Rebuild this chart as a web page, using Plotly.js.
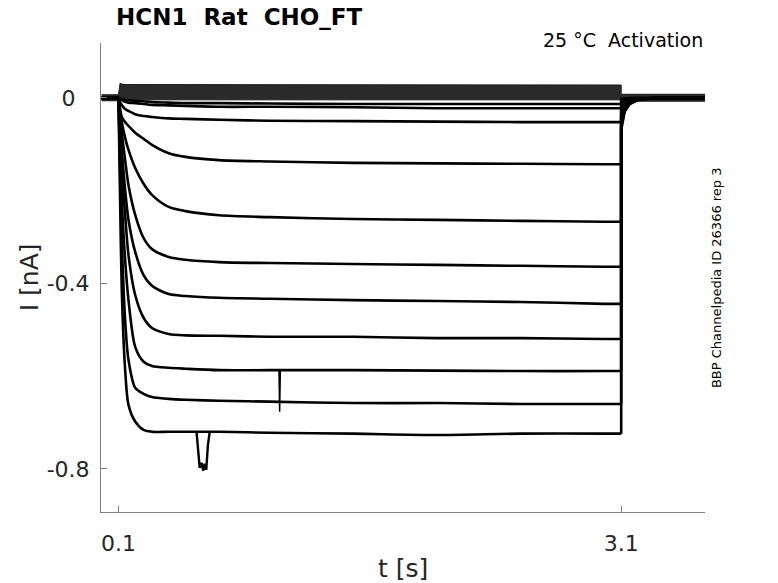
<!DOCTYPE html>
<html>
<head>
<meta charset="utf-8">
<script src="https://cdn.plot.ly/plotly-3.0.1.min.js"></script>
<style>
  body { margin: 0; background: #fff; }
  #chart { width: 778px; height: 583px; }
</style>
</head>
<body>
<div id="chart"></div>
<script>
// time grid [s]; 3.1 twice = end of step, then tail
const t = [0, 0.1, 0.11, 0.12, 0.14, 0.16, 0.2, 0.25, 0.3, 0.4, 0.5, 0.7, 1.0, 1.5, 2.0, 2.5, 3.0, 3.1,
           3.1, 3.12, 3.15, 3.2, 3.3, 3.6];

// currents [nA], smallest to largest
const i1  = [0, 0, -0.001, -0.002, -0.004, -0.005, -0.006, -0.007, -0.009, -0.010, -0.011, -0.011, -0.012, -0.013, -0.013, -0.013, -0.013, -0.013,
             -0.002, -0.001, 0, 0, 0, 0];
const i2  = [0, 0, -0.002, -0.004, -0.008, -0.010, -0.011, -0.013, -0.015, -0.016, -0.017, -0.019, -0.019, -0.020, -0.022, -0.022, -0.022, -0.022,
             -0.004, -0.002, -0.001, 0, 0, 0];
const i3  = [0, 0, -0.009, -0.015, -0.024, -0.028, -0.035, -0.039, -0.041, -0.044, -0.045, -0.047, -0.049, -0.050, -0.051, -0.052, -0.052, -0.052,
             -0.011, -0.006, -0.003, -0.001, 0, 0];
const i4  = [0, 0, -0.022, -0.041, -0.052, -0.060, -0.075, -0.088, -0.101, -0.119, -0.127, -0.134, -0.137, -0.140, -0.141, -0.142, -0.143, -0.143,
             -0.022, -0.013, -0.006, -0.002, 0, 0];
const i5  = [0, 0, -0.030, -0.052, -0.086, -0.112, -0.151, -0.185, -0.209, -0.235, -0.244, -0.253, -0.257, -0.261, -0.263, -0.265, -0.267, -0.267,
             -0.026, -0.013, -0.006, -0.002, 0, 0];
const i6  = [0, 0, -0.039, -0.075, -0.134, -0.188, -0.252, -0.302, -0.326, -0.343, -0.349, -0.354, -0.356, -0.358, -0.360, -0.362, -0.364, -0.364,
             -0.034, -0.017, -0.009, -0.002, 0, 0];
const i7  = [0, 0, -0.058, -0.112, -0.198, -0.263, -0.332, -0.382, -0.405, -0.423, -0.427, -0.431, -0.433, -0.436, -0.438, -0.440, -0.444, -0.444,
             -0.043, -0.019, -0.009, -0.002, 0, 0];
const i8  = [0, 0, -0.080, -0.155, -0.252, -0.339, -0.425, -0.474, -0.496, -0.509, -0.512, -0.513, -0.515, -0.515, -0.518, -0.518, -0.520, -0.520,
             -0.052, -0.024, -0.011, -0.003, 0, 0];
const i9  = [0, 0, -0.112, -0.220, -0.349, -0.436, -0.537, -0.569, -0.578, -0.582, -0.584, -0.587, -0.587, -0.587, -0.588, -0.589, -0.589, -0.589,
             -0.058, -0.026, -0.012, -0.003, 0, 0];
const i10 = [0, 0, -0.155, -0.306, -0.479, -0.565, -0.625, -0.638, -0.645, -0.649, -0.651, -0.653, -0.655, -0.658, -0.658, -0.660, -0.660, -0.660,
             -0.065, -0.028, -0.013, -0.004, 0, 0];
const i11 = [0, 0, -0.220, -0.414, -0.586, -0.662, -0.698, -0.716, -0.720, -0.720, -0.720, -0.720, -0.722, -0.724, -0.727, -0.724, -0.724, -0.724,
             -0.069, -0.030, -0.013, -0.004, 0, 0];

// the dense noisy band of near-zero traces (upper / lower edge)
const bandTop    = [0.007, 0.007, 0.032, 0.030, 0.029, 0.029, 0.028, 0.028, 0.028, 0.028, 0.028, 0.028, 0.028, 0.028, 0.028, 0.028, 0.028, 0.028,
                    0.008, 0.008, 0.008, 0.008, 0.008, 0.008];
const bandBottom = [-0.006, -0.006, -0.004, -0.004, -0.004, -0.004, -0.004, -0.004, -0.004, -0.004, -0.004, -0.004, -0.004, -0.004, -0.004, -0.004, -0.004, -0.004,
                    -0.007, -0.007, -0.007, -0.007, -0.007, -0.007];

// glitches: dip on the largest trace, spike on the 9th
const dipT = [0.566, 0.578, 0.585, 0.596, 0.606, 0.615, 0.624, 0.634, 0.645];
const dipI = [-0.720, -0.776, -0.798, -0.787, -0.804, -0.789, -0.802, -0.748, -0.720];
const spikeT = [1.058, 1.062, 1.066];
const spikeI = [-0.587, -0.677, -0.587];

const xTicks = [0.1, 3.1];
const xTickText = ['0.1', '3.1'];
const yTicks = [0, -0.4, -0.8];
const yTickText = ['0\u2007', '-0.4', '-0.8'];

const traces = [i1, i2, i3, i4, i5, i6, i7, i8, i9, i10, i11];

// index range of the voltage step (0.1 s .. 3.1 s)
const stepStart = 1, stepEnd = 17;

let data = [
    { x: t, y: bandBottom, mode: 'lines', line: { color: '#1a1a1a', width: 1 } },
    { x: t, y: bandTop, mode: 'lines', fill: 'tonexty', fillcolor: '#2a2a2a', line: { color: '#1a1a1a', width: 1 } }
];
traces.forEach(v => {
    // before step and tail: straight segments
    data.push({ x: t.slice(0, stepStart + 1), y: v.slice(0, stepStart + 1), mode: 'lines', line: { color: '#000', width: 2.6 } });
    data.push({ x: t.slice(stepEnd), y: v.slice(stepEnd), mode: 'lines', line: { color: '#000', width: 2.6 } });
    // during step: smooth relaxation
    data.push({
        x: t.slice(stepStart, stepEnd + 1), y: v.slice(stepStart, stepEnd + 1),
        mode: 'lines', line: { color: '#000', width: 2.6, shape: 'spline', smoothing: 0.8 }
    });
});
data.push({ x: dipT, y: dipI, mode: 'lines', line: { color: '#000', width: 2.4 } });
data.push({ x: spikeT, y: spikeI, mode: 'lines', line: { color: '#000', width: 1.5 } });

const axisGray = '#808080';
const labelGray = '#262626';
const font = 'DejaVu Sans, sans-serif';

const layout = {
    width: 778,
    height: 583,
    margin: { l: 101, r: 73, t: 43, b: 71 },
    paper_bgcolor: '#fff',
    plot_bgcolor: '#fff',
    showlegend: false,
    hovermode: false,
    font: { family: font, color: labelGray },
    xaxis: {
        range: [-0.004, 3.6],
        tickvals: xTicks,
        ticktext: xTickText,
        ticks: 'inside',
        ticklen: 6,
        tickcolor: axisGray,
        tickfont: { size: 22, color: labelGray },
        ticklabelstandoff: 12,
        showline: true,
        linecolor: axisGray,
        linewidth: 1,
        showgrid: false,
        zeroline: false
    },
    yaxis: {
        range: [-0.893, 0.1186],
        tickvals: yTicks,
        ticktext: yTickText,
        ticks: 'inside',
        ticklen: 6,
        tickcolor: axisGray,
        tickfont: { size: 22, color: labelGray },
        ticklabelstandoff: 6,
        showline: true,
        linecolor: axisGray,
        linewidth: 1,
        showgrid: false,
        zeroline: false
    },
    annotations: [
        {
            text: '<b>HCN1\u00a0\u00a0Rat\u00a0\u00a0CHO_FT</b>',
            xref: 'paper', yref: 'paper', x: 0.021, y: 1.056,
            xanchor: 'left', yanchor: 'middle', showarrow: false,
            font: { size: 23, color: '#000' }
        },
        {
            text: '25 °C\u00a0\u00a0Activation',
            xref: 'paper', yref: 'paper', x: 1.0, y: 1.006,
            xanchor: 'right', yanchor: 'middle', showarrow: false,
            font: { size: 19, color: '#000' }
        },
        {
            text: 'BBP Channelpedia ID 26366 rep 3',
            xref: 'paper', yref: 'paper', x: 1.02, y: 0.499,
            xanchor: 'center', yanchor: 'middle', showarrow: false,
            textangle: -90,
            font: { size: 13, color: '#000' }
        },
        {
            text: 't [s]',
            xref: 'paper', yref: 'paper', x: 0.5, y: -0.12,
            xanchor: 'center', yanchor: 'middle', showarrow: false,
            font: { size: 25, color: labelGray }
        },
        {
            text: 'I [nA]',
            xref: 'paper', yref: 'paper', x: -0.118, y: 0.5,
            xanchor: 'center', yanchor: 'middle', showarrow: false,
            textangle: -90,
            font: { size: 25, color: labelGray }
        }
    ]
};

Plotly.newPlot('chart', data, layout, { staticPlot: true, displayModeBar: false });
</script>
</body>
</html>
